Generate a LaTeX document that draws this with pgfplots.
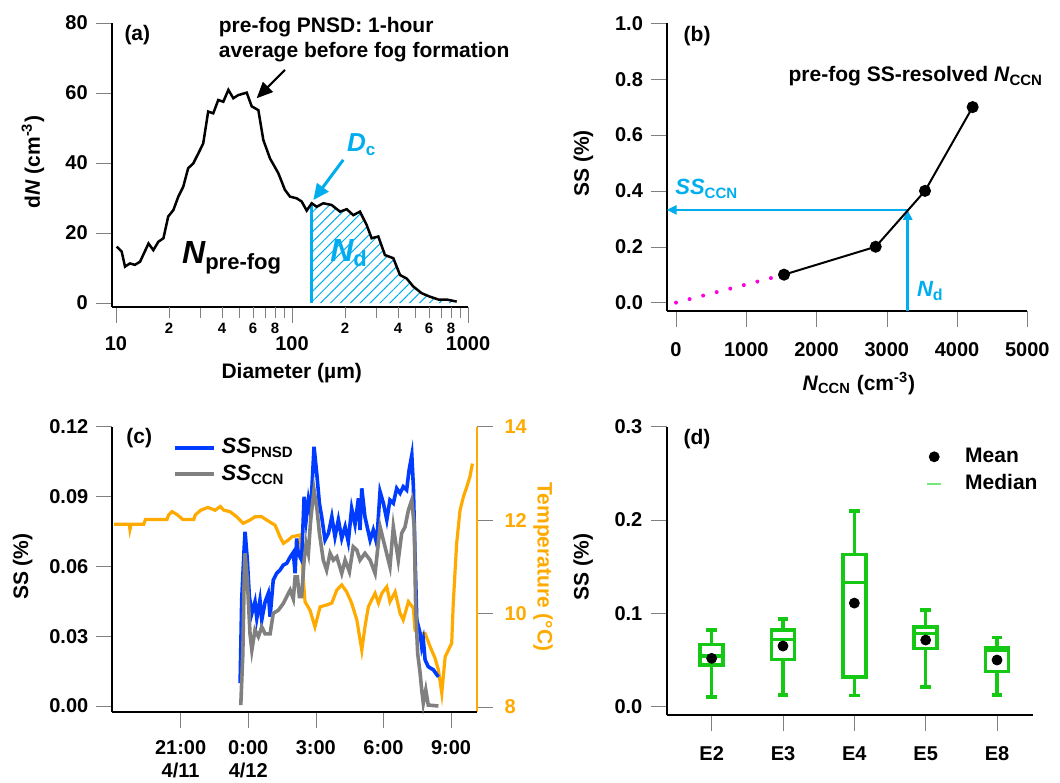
\documentclass[border=0pt]{standalone}
\usepackage{fontspec}
\setmainfont{Liberation Sans}
\usepackage{pgfplots}
\pgfplotsset{compat=1.18}
\usepgfplotslibrary{statistics}
\usetikzlibrary{patterns.meta,arrows.meta}

\definecolor{cyanb}{RGB}{0,174,239}
\definecolor{ssblue}{RGB}{0,60,255}
\definecolor{ssgray}{RGB}{128,128,128}
\definecolor{torange}{RGB}{255,170,0}
\definecolor{mag}{RGB}{255,0,220}
\definecolor{boxgreen}{RGB}{20,200,20}
\definecolor{medgreen}{RGB}{120,230,120}

\newcommand{\tl}{\fontsize{10}{11.5}\selectfont\bfseries}
\newcommand{\lb}{\fontsize{10.5}{12}\selectfont\bfseries}

\tikzset{ylab/.style={anchor=east, font=\tl, inner sep=0pt, xshift=-#1}}

\pgfplotsset{
  panel/.style={
    scale only axis, anchor=south west, clip=false,
    axis x line*=bottom, axis y line*=left,
    axis line style={line width=1pt, black},
    tick align=outside,
    major tick length=8pt, minor tick length=5.5pt,
    tick label style={font=\tl, inner sep=0pt},
    xticklabel style={anchor=north, yshift=-7.5pt},
    label style={font=\lb},
    /pgf/number format/assume math mode=true,
    /pgf/number format/1000 sep={},
  },
}

\begin{document}
\begin{tikzpicture}
\path[use as bounding box] (0,0) rectangle (530pt,391pt);

% (a) pre-fog PNSD
\begin{axis}[panel, at={(56pt,237.5pt)}, width=178pt, height=142pt,
  yticklabel shift=4pt,
  xmode=log, xmin=9.49, xmax=1000, ymin=-1.14, ymax=80,
  xtick={10,100,1000}, xticklabels={10,100,1000},
  xticklabel style={yshift=1pt},
  minor xtick={30,50,70,90,300,500,700,900},
  extra x ticks={20,40,60,80,200,400,600,800},
  extra x tick labels={2,4,6,8,2,4,6,8},
  extra x tick style={major tick length=5.5pt,
    xticklabel style={yshift=4.1pt, font=\fontsize{7.5}{8}\selectfont\bfseries}},
  ytick={0,20,40,60,80},
  xlabel={Diameter (µm)},
  ylabel={d\textit{N} (cm\textsuperscript{-3})},
  xlabel style={at={(axis description cs:0.505,-0.232)}, anchor=center},
  ylabel style={at={(axis description cs:-0.222,0.51)}, anchor=center},
]
\addplot[draw=none, pattern={Lines[angle=45,distance=3.5pt,line width=0.5pt]}, pattern color=cyanb]
  coordinates {(129.4,28.5) (138.1,27.5) (150.6,28.5) (168.0,28.0) (187.5,26.1)
  (204.6,26.8) (223.0,25.1) (243.3,26.1) (265.5,22.3) (283.6,18.5) (309.3,19.0)
  (337.5,13.7) (376.5,12.8) (411.0,8.0) (448.3,7.0) (489.0,4.7) (545.4,2.8)
  (608.1,1.8) (678.1,1.0) (756.2,1.0) (862.6,0.4)} \closedcycle;
\addplot[cyanb, line width=1.3pt] coordinates {(129.4,0) (129.4,28.5)};
\addplot[black, line width=1.25pt] coordinates {
  (10.09,16.1) (10.77,14.7) (11.25,10.4) (12.0,11.3) (12.8,10.9) (13.7,11.8)
  (15.3,17.0) (16.3,15.1) (17.4,17.5) (18.6,18.5) (19.8,24.7) (21.2,26.6)
  (22.6,30.4) (24.1,33.2) (25.7,38.5) (27.5,39.9) (29.4,42.8) (31.3,45.6)
  (33.4,54.7) (35.7,54.2) (38.1,58.0) (40.7,57.5) (43.5,60.9) (46.4,58.5)
  (49.5,59.4) (55.3,60.1) (59.0,56.2) (64.4,55.1) (68.7,46.6) (75.0,41.3)
  (83.6,37.1) (91.2,32.3) (97.4,30.4) (106.4,29.9) (113.5,29.0) (121.2,26.4)
  (129.4,28.5) (138.1,27.5) (150.6,28.5) (168.0,28.0) (187.5,26.1) (204.6,26.8)
  (223.0,25.1) (243.3,26.1) (265.5,22.3) (283.6,18.5) (309.3,19.0) (337.5,13.7)
  (376.5,12.8) (411.0,8.0) (448.3,7.0) (489.0,4.7) (545.4,2.8) (608.1,1.8)
  (678.1,1.0) (756.2,1.0) (862.6,0.4)};
\node[anchor=base west, font=\lb, inner sep=0pt] at (axis description cs:0.034,0.938) {(a)};
\node[anchor=base west, font=\lb, inner sep=0pt] at (axis description cs:0.299,0.966) {pre-fog PNSD: 1-hour};
\node[anchor=base west, font=\lb, inner sep=0pt] at (axis description cs:0.299,0.879) {average before fog formation};
\draw[-{Triangle[length=8pt,width=7pt]}, line width=1pt] (axis cs:91.2,66.6) -- (axis cs:63,58.5);
\draw[cyanb, -{Triangle[length=8pt,width=7pt]}, line width=1.5pt] (axis cs:195.6,40.9) -- (axis cs:132.1,29.4);
\node[anchor=base west, inner sep=0pt, cyanb] at (axis description cs:0.659,0.547)
  {\fontsize{13}{13}\selectfont\bfseries\itshape D\upshape\fontsize{8.5}{9}\selectfont\raisebox{-2pt}{c}};
\node[anchor=base west, inner sep=0pt] at (axis description cs:0.196,0.154)
  {\fontsize{16}{16}\selectfont\bfseries\itshape N\upshape\fontsize{11}{11}\selectfont\raisebox{-3.3pt}{pre-fog}};
\node[anchor=base west, inner sep=0pt, cyanb] at (axis description cs:0.612,0.160)
  {\fontsize{16}{16}\selectfont\bfseries\itshape N\upshape\fontsize{11}{11}\selectfont\raisebox{-2.5pt}{d}};
\end{axis}

% (b) SS-resolved N_CCN
\begin{axis}[panel, at={(333.35pt,235.65pt)}, width=180.3pt, height=143.7pt,
  xmin=-133, xmax=5000, ymin=-0.029, ymax=1.0,
  xtick={0,1000,2000,3000,4000,5000},
  ytick={0,0.2,0.4,0.6,0.8,1.0}, yticklabels={},
  xlabel={\textit{N}\textsubscript{CCN} (cm\textsuperscript{-3})},
  ylabel={SS (\%)},
  xlabel style={at={(axis description cs:0.533,-0.252)}, anchor=center},
  ylabel style={at={(axis description cs:-0.231,0.513)}, anchor=center},
]
\addplot[mag, line width=2pt, line cap=round, dash pattern=on 0pt off 7pt] coordinates {(0,0) (1537,0.1)};
\addplot[cyanb, line width=1.3pt, -{Triangle[length=5pt,width=4.5pt]}] coordinates {(3297,-0.029) (3297,0.332)};
\addplot[cyanb, line width=1.3pt, -{Triangle[length=5pt,width=4.5pt]}] coordinates {(3297,0.332) (-133,0.332)};
\addplot[black, line width=1pt, mark=*, mark size=2.5pt] coordinates {(1537,0.1) (2842,0.2) (3544,0.4) (4222,0.7)};
\node[ylab=11.7pt] at (axis cs:-133,0) {0.0};
\node[ylab=11.7pt] at (axis cs:-133,0.2) {0.2};
\node[ylab=11.7pt] at (axis cs:-133,0.4) {0.4};
\node[ylab=11.7pt] at (axis cs:-133,0.6) {0.6};
\node[ylab=11.7pt] at (axis cs:-133,0.8) {0.8};
\node[ylab=11.7pt] at (axis cs:-133,1.0) {1.0};
\node[anchor=base west, font=\lb, inner sep=0pt] at (axis description cs:0.046,0.936) {(b)};
\node[anchor=base west, font=\lb, inner sep=0pt] at (axis description cs:0.337,0.797)
  {pre-fog SS-resolved \textit{N}{\fontsize{7.5}{8}\selectfont\raisebox{-2pt}{CCN}}};
\node[anchor=base west, inner sep=0pt, cyanb] at (axis description cs:0.023,0.403)
  {\fontsize{11}{11}\selectfont\bfseries\itshape SS\upshape\fontsize{7.5}{8}\selectfont\raisebox{-2pt}{CCN}};
\node[anchor=base west, inner sep=0pt, cyanb] at (axis description cs:0.693,0.049)
  {\fontsize{11}{11}\selectfont\bfseries\itshape N\upshape\fontsize{8}{8}\selectfont\raisebox{-2pt}{d}};
\end{axis}

% (c) temperature, right axis
\begin{axis}[panel, at={(55.85pt,35.15pt)}, width=182.5pt, height=142.5pt,
  axis x line=none, axis y line*=right,
  xmin=-6.06, xmax=10.14, ymin=7.893, ymax=14,
  ytick={8,10,12,14},
  axis line style={torange, line width=1pt},
  yticklabel shift=5.7pt,
  yticklabel style={text=torange},
  ylabel={Temperature (°C)},
  ylabel style={at={(axis description cs:1.182,0.508)}, anchor=center, rotate=180, text=torange},
]
\addplot[torange, line width=1.6pt] coordinates {
  (-5.95,11.91) (-5.28,11.91) (-5.25,11.80) (-5.2,11.91) (-4.64,11.91) (-4.56,12.01)
  (-3.61,12.01) (-3.53,12.11) (-3.38,12.18) (-3.14,12.11) (-2.90,12.01) (-2.42,12.01)
  (-2.35,12.11) (-2.11,12.21) (-1.79,12.27) (-1.47,12.21) (-1.24,12.29) (-1.08,12.21)
  (-0.81,12.18) (-0.51,12.07) (-0.22,11.93) (0.08,12.0) (0.3,12.07) (0.6,12.07)
  (0.82,12.0) (1.19,11.89) (1.41,11.64) (1.56,11.5) (1.78,11.57) (1.93,11.64)
  (2.3,11.68) (2.37,11.29) (2.45,10.71) (2.52,10.25) (2.74,10.07) (2.96,9.71)
  (3.19,10.14) (3.48,10.18) (3.71,10.22) (3.93,10.5) (4.15,10.61) (4.37,10.46)
  (4.59,10.22) (4.82,9.86) (5.04,9.21) (5.18,9.71) (5.33,10.14) (5.48,10.29)
  (5.63,10.43) (5.78,10.22) (5.93,10.43) (6.15,10.57) (6.29,10.25) (6.52,10.46)
  (6.74,10.0) (6.88,9.86) (7.11,10.25) (7.33,10.11) (7.4,9.64) (7.63,9.57)
  (7.85,9.57) (8.07,9.29) (8.29,9.04) (8.44,8.79) (8.59,8.29) (8.74,9.07)
  (8.88,9.21) (9.03,9.36) (9.1,10.22) (9.25,11.5) (9.4,12.21) (9.55,12.5)
  (9.7,12.71) (9.84,12.93) (9.95,13.21)};
\end{axis}

% (c) SS time series, left axis
\begin{axis}[panel, at={(55.85pt,35.15pt)}, width=182.5pt, height=142.5pt,
  xmin=-6.06, xmax=10.14, ymin=-0.00245, ymax=0.12,
  xtick={-3,0,3,6,9}, xticklabels={{21:00\\4/11},{0:00\\4/12},3:00,6:00,9:00},
  xticklabel style={align=center, yshift=1.5pt},
  ytick={0,0.03,0.06,0.09,0.12}, yticklabels={},
  ylabel={SS (\%)},
  ylabel style={at={(axis description cs:-0.244,0.509)}, anchor=center},
  legend style={draw=none, fill=none, at={(axis description cs:0.165,0.880)}, anchor=west,
    font=\bfseries, row sep=4pt, column sep=3pt, inner sep=0pt, nodes={inner sep=0pt}},
  legend cell align=left,
  legend image code/.code={\draw[#1, line width=2.2pt] (0pt,0pt) -- (19.5pt,0pt);},
]
\addplot[ssblue, line width=1.8pt] coordinates {
  (-0.36,0.0098) (-0.29,0.0455) (-0.18,0.068) (-0.14,0.0749) (-0.04,0.0627)
  (0.05,0.047) (0.16,0.0398) (0.30,0.0448) (0.38,0.0377) (0.52,0.0455) (0.60,0.037)
  (0.75,0.0448) (0.89,0.0484) (0.97,0.0384) (1.11,0.0541) (1.26,0.057) (1.41,0.0584)
  (1.56,0.0606) (1.71,0.0613) (1.86,0.064) (2.0,0.066) (2.08,0.057) (2.15,0.072)
  (2.22,0.0656) (2.37,0.0627) (2.48,0.0899) (2.57,0.08) (2.67,0.0885) (2.77,0.0828)
  (2.92,0.1114) (3.04,0.1) (3.16,0.087) (3.26,0.0813) (3.41,0.0713) (3.56,0.0742)
  (3.71,0.0813) (3.85,0.0727) (4.0,0.08) (4.15,0.072) (4.3,0.077) (4.44,0.0706)
  (4.59,0.0849) (4.74,0.078) (4.89,0.0892) (4.96,0.0756) (5.04,0.0935) (5.18,0.0813)
  (5.41,0.0713) (5.55,0.0756) (5.7,0.0699) (5.85,0.0921) (6.0,0.0871) (6.15,0.08)
  (6.29,0.0885) (6.44,0.0871) (6.59,0.0935) (6.74,0.0914) (6.88,0.0942) (7.03,0.0928)
  (7.14,0.1014) (7.26,0.1078) (7.33,0.0942) (7.4,0.0656) (7.48,0.037) (7.63,0.0312)
  (7.7,0.0255) (7.77,0.0284) (7.85,0.0198) (7.99,0.0169) (8.22,0.0155) (8.44,0.0125)};
\addplot[ssgray, line width=1.8pt] coordinates {
  (-0.33,0.0004) (-0.24,0.0226) (-0.18,0.055) (-0.14,0.0656) (-0.04,0.054)
  (0.08,0.031) (0.16,0.024) (0.30,0.0327) (0.45,0.0298) (0.6,0.034) (0.75,0.031)
  (0.97,0.031) (1.11,0.0398) (1.34,0.0412) (1.56,0.0441) (1.78,0.0484) (1.86,0.0498)
  (2.0,0.046) (2.08,0.0555) (2.18,0.0555) (2.27,0.047) (2.37,0.047) (2.48,0.0627)
  (2.57,0.0699) (2.67,0.0656) (2.77,0.08) (2.92,0.0928) (3.04,0.0856) (3.16,0.0742)
  (3.33,0.0627) (3.48,0.0584) (3.63,0.0656) (3.78,0.0627) (3.93,0.0641) (4.15,0.057)
  (4.3,0.0627) (4.49,0.0577) (4.66,0.0684) (4.82,0.067) (4.96,0.0627) (5.18,0.0656)
  (5.41,0.0627) (5.63,0.057) (5.85,0.077) (6.07,0.0684) (6.29,0.0598) (6.44,0.077)
  (6.66,0.0627) (6.81,0.0742) (6.96,0.077) (7.11,0.0842) (7.26,0.0885) (7.37,0.077)
  (7.43,0.0427) (7.52,0.0226) (7.63,0.014) (7.7,0.0069) (7.77,0.0012) (7.88,0.0069)
  (7.99,0.0004) (8.44,0.0)};
\legend{{\fontsize{11}{11}\selectfont\itshape SS\upshape\fontsize{7.5}{8}\selectfont\raisebox{-2pt}{PNSD}},
        {\fontsize{11}{11}\selectfont\itshape SS\upshape\fontsize{7.5}{8}\selectfont\raisebox{-2pt}{CCN}}}
\node[ylab=11.5pt] at (axis cs:-6.06,0) {0.00};
\node[ylab=11.5pt] at (axis cs:-6.06,0.03) {0.03};
\node[ylab=11.5pt] at (axis cs:-6.06,0.06) {0.06};
\node[ylab=11.5pt] at (axis cs:-6.06,0.09) {0.09};
\node[ylab=11.5pt] at (axis cs:-6.06,0.12) {0.12};
\node[anchor=base west, font=\lb, inner sep=0pt] at (axis description cs:0.039,0.942) {(c)};
\end{axis}

% (d) box plots
\begin{axis}[panel, at={(333.35pt,33.5pt)}, width=183pt, height=144.15pt,
  xmin=-0.63, xmax=4.5, ymin=-0.0089, ymax=0.3,
  xtick={0,1,2,3,4}, xticklabels={E2,E3,E4,E5,E8},
  ytick={0,0.1,0.2,0.3}, yticklabels={},
  ylabel={SS (\%)},
  ylabel style={at={(axis description cs:-0.228,0.514)}, anchor=center},
  boxplot/draw direction=y,
  legend style={draw=none, fill=none, at={(axis description cs:0.708,0.848)}, anchor=west,
    font=\lb, row sep=4.6pt, column sep=11.5pt, inner sep=0pt, nodes={inner sep=0pt}},
  legend cell align=left,
]
\addplot[boxgreen, line width=1.8pt, forget plot, boxplot prepared={draw position=0,
  lower whisker=0.0107, lower quartile=0.0446, median=0.0543, upper quartile=0.0668,
  upper whisker=0.082, box extend=0.32, whisker extend=0.15}] coordinates {};
\addplot[boxgreen, line width=1.8pt, forget plot, boxplot prepared={draw position=1,
  lower whisker=0.0125, lower quartile=0.0507, median=0.0721, upper quartile=0.082,
  upper whisker=0.094, box extend=0.32, whisker extend=0.15}] coordinates {};
\addplot[boxgreen, line width=1.8pt, forget plot, boxplot prepared={draw position=2,
  lower whisker=0.0118, lower quartile=0.032, median=0.133, upper quartile=0.163,
  upper whisker=0.2096, box extend=0.32, whisker extend=0.15}] coordinates {};
\addplot[boxgreen, line width=1.8pt, forget plot, boxplot prepared={draw position=3,
  lower whisker=0.0214, lower quartile=0.0625, median=0.0786, upper quartile=0.0857,
  upper whisker=0.1036, box extend=0.32, whisker extend=0.15}] coordinates {};
\addplot[boxgreen, line width=1.8pt, forget plot, boxplot prepared={draw position=4,
  lower whisker=0.0125, lower quartile=0.0375, median=0.06, upper quartile=0.0636,
  upper whisker=0.074, box extend=0.32, whisker extend=0.15}] coordinates {};
\addplot[only marks, mark=*, mark size=2.5pt, black, forget plot]
  coordinates {(0,0.0518) (1,0.065) (2,0.111) (3,0.0714) (4,0.05)};
\addlegendimage{legend image code/.code={\draw[black, mark=*, mark size=2.5pt] plot coordinates {(3.5pt,0pt)};}}
\addlegendimage{legend image code/.code={\draw[medgreen, line width=1pt] (0pt,0pt) -- (7pt,0pt);}}
\legend{Mean, Median}
\node[ylab=12pt] at (axis cs:-0.63,0) {0.0};
\node[ylab=12pt] at (axis cs:-0.63,0.1) {0.1};
\node[ylab=12pt] at (axis cs:-0.63,0.2) {0.2};
\node[ylab=12pt] at (axis cs:-0.63,0.3) {0.3};
\node[anchor=base west, font=\lb, inner sep=0pt] at (axis description cs:0.045,0.937) {(d)};
\end{axis}
\end{tikzpicture}
\end{document}
